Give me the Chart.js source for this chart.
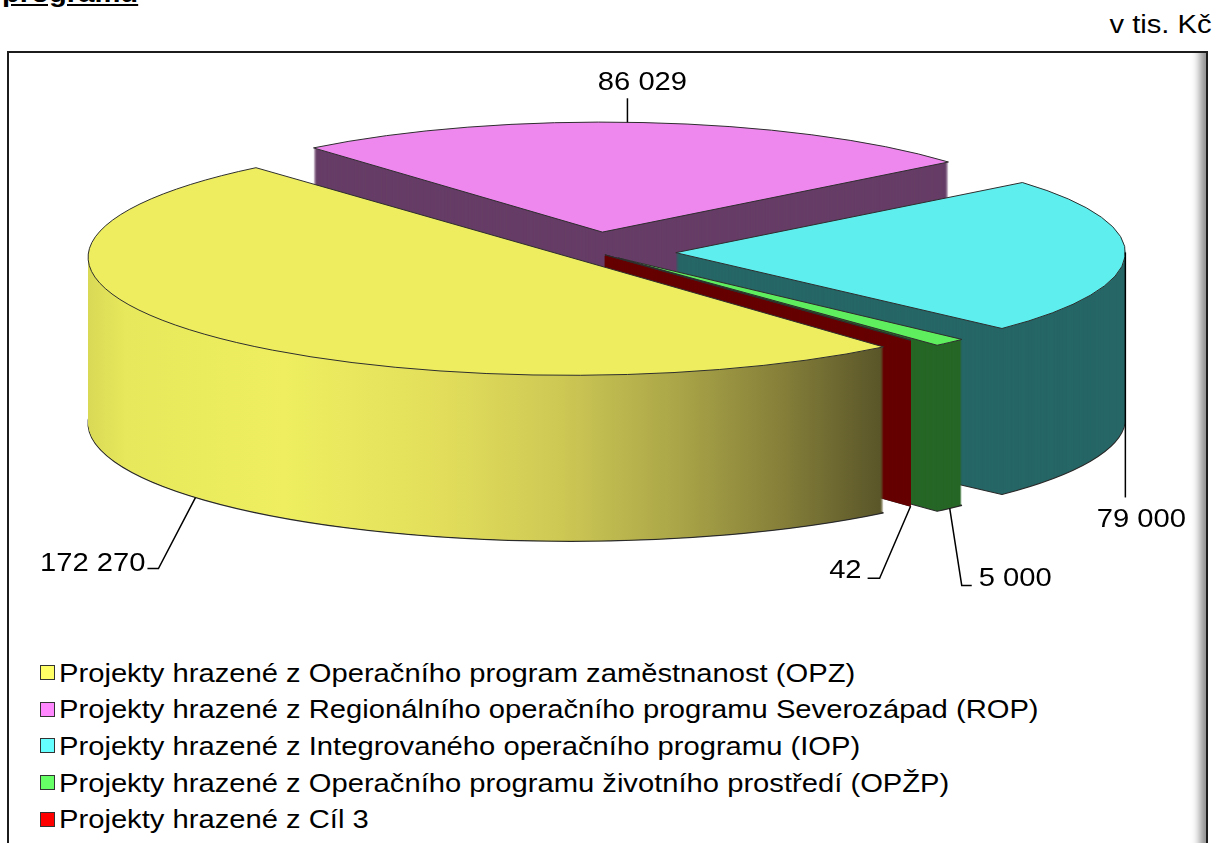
<!DOCTYPE html>
<html><head><meta charset="utf-8">
<script src="https://cdn.jsdelivr.net/npm/chart.js"></script>
<style>
html,body{margin:0;padding:0;background:#fff;width:1216px;height:843px;overflow:hidden;position:relative;font-family:"Liberation Sans",Arial,sans-serif;}
#frame{position:absolute;left:7px;top:51px;width:1197px;height:820px;border:2px solid #1c1c1c;box-shadow:inset -9px -9px 9px -3px rgba(0,0,0,0.45);}
#c{position:absolute;left:0;top:0;}
.st{position:absolute;white-space:nowrap;font-size:25.6px;line-height:26px;color:#000;}
.box{position:absolute;width:13px;height:13px;border:1px solid #333;}
</style>
</head><body>
<div class="st" style="left:2px;top:-19.9px;font-weight:bold;text-decoration:underline;transform:scaleX(1.14);transform-origin:0 0">programu</div>
<div class="st" style="right:4px;top:11.1px;transform:scaleX(1.14);transform-origin:100% 0">v tis. Kč</div>
<div id="frame"></div>
<div id="legend"></div>
<canvas id="c" width="1216" height="843"></canvas>
<script>
// ---- data ----
const categories = [
  'Projekty hrazené z Operačního program zaměstnanost (OPZ)',
  'Projekty hrazené z Regionálního operačního programu Severozápad (ROP)',
  'Projekty hrazené z Integrovaného operačního programu (IOP)',
  'Projekty hrazené z Operačního programu životního prostředí (OPŽP)',
  'Projekty hrazené z Cíl 3'
];
const values = [172270, 86029, 79000, 5000, 42];

// ---- styles ----
const topColors = ['#EDED5F', '#EE88EE', '#5EEEEE', '#5EEE5E', '#EE0000'];
const sideColors = ['#8F8A3F', '#663D66', '#266666', '#266626', '#660000'];
const legendColors = ['#FFFF66', '#FF88FF', '#66FFFF', '#66FF66', '#FF0000'];
const explode = [44, 109, 108, 44, 20];
const VIEW = {cx: 595, cy: 252, a: 449, b: 110, depth: 166};
const labelLayout = [
  {f: 0.509, bottom: true,  bend: [-37, 71], tail: -11, align: 'right',  tx: -2, ty: 2},
  {f: 0.478, bottom: false, bend: [0, -24],  tail: 0,   align: 'center', tx: 15, ty: -8.5},
  {f: 0.475, bottom: false, bend: [0, 245],  tail: 0,   align: 'center', tx: 16, ty: 30},
  {f: 0.5,   bottom: true,  bend: [12, 77],  tail: 10,  align: 'left',   tx: 7,  ty: 1},
  {f: 0.5,   bottom: true,  bend: [-31, 72], tail: -12, align: 'right',  tx: -6, ty: 0}
];
const LABEL_FONT = '25.6px "Liberation Sans", Arial, sans-serif';
const STRETCH = 1.14;

const fmt = v => String(v).replace(/\B(?=(\d{3})+(?!\d))/g, ' ');

// ---- HTML legend ----
const lg = document.getElementById('legend');
categories.forEach((name, i) => {
  const top = 659.8 + i * 36.6;
  const b = document.createElement('div');
  b.className = 'box';
  b.style.left = '40px'; b.style.top = (top + 5.3) + 'px';
  b.style.background = legendColors[i];
  lg.appendChild(b);
  const t = document.createElement('div');
  t.className = 'st';
  t.style.left = '59px'; t.style.top = top + 'px';
  t.style.transform = 'scaleX(' + STRETCH + ')';
  t.style.transformOrigin = '0 0';
  t.textContent = name;
  lg.appendChild(t);
});

// ---- 3D extrusion plugin ----
function viewOf(chart) {
  const meta = chart.getDatasetMeta(0);
  const el0 = meta.data[0];
  const R = el0.outerRadius;
  return {meta, cx: el0.x, cy: el0.y, kx: VIEW.a / R, ky: VIEW.b / R};
}
let saved = null;
const pie3d = {
  id: 'pie3d',
  beforeDatasetsDraw(chart) {
    const ctx = chart.ctx;
    const v = viewOf(chart);
    const base = ctx.getTransform();
    const apply = dy => {
      ctx.setTransform(base);
      ctx.translate(VIEW.cx, VIEW.cy + dy);
      ctx.scale(v.kx, v.ky);
      ctx.translate(-v.cx, -v.cy);
    };
    const oFill = ctx.fill, oStroke = ctx.stroke;
    ctx.fill = function(...a) { this.save(); this.setTransform(base); oFill.apply(this, a); this.restore(); };
    ctx.stroke = function(...a) { this.save(); this.setTransform(base); oStroke.apply(this, a); this.restore(); };
    saved = {base};
    const g = ctx.createLinearGradient(86, 0, 880, 0);
    g.addColorStop(0.00, '#D8D856');
    g.addColorStop(0.05, '#E8E85C');
    g.addColorStop(0.25, '#EEEE60');
    g.addColorStop(0.45, '#E2DE5B');
    g.addColorStop(0.60, '#CDC854');
    g.addColorStop(0.75, '#A9A447');
    g.addColorStop(0.88, '#847E39');
    g.addColorStop(1.00, '#5A5629');
    const sideFill = i => (i === 0 ? g : sideColors[i]);
    for (let k = VIEW.depth; k >= 1; k--) {
      apply(k);
      v.meta.data.forEach((el, i) => {
        const c = Object.create(el);
        const last = k === VIEW.depth;
        c.options = Object.assign({}, el.options, {
          backgroundColor: sideFill(i),
          borderColor: last ? '#2a2a2a' : sideColors[i],
          borderWidth: last ? 1.2 : (i === 4 ? 2.4 : 0)
        });
        c.draw(ctx);
      });
    }
    apply(0);
  },
  afterDatasetsDraw(chart) {
    const ctx = chart.ctx;
    delete ctx.fill; delete ctx.stroke;
    if (saved) ctx.setTransform(saved.base);
    const v = viewOf(chart);
    const map = (px, py) => [VIEW.cx + (px - v.cx) * v.kx, VIEW.cy + (py - v.cy) * v.ky];
    ctx.save();
    ctx.strokeStyle = '#000';
    ctx.lineWidth = 1.5;
    ctx.fillStyle = '#000';
    ctx.font = LABEL_FONT;
    v.meta.data.forEach((el, i) => {
      const L = labelLayout[i];
      const off = (el.options.offset || 0) / 4;
      const h = (el.startAngle + el.endAngle) / 2;
      const fix = 1 - Math.sin(Math.min(Math.PI, el.circumference));
      const r = el.outerRadius + off * fix;
      const a = el.startAngle + L.f * (el.endAngle - el.startAngle);
      const p = map(el.x + Math.cos(h) * off + Math.cos(a) * r, el.y + Math.sin(h) * off + Math.sin(a) * r);
      if (L.bottom) p[1] += VIEW.depth;
      const b = [p[0] + L.bend[0], p[1] + L.bend[1]];
      const e = [b[0] + L.tail, b[1]];
      ctx.beginPath();
      ctx.moveTo(p[0], p[1]);
      ctx.lineTo(b[0], b[1]);
      if (L.tail) ctx.lineTo(e[0], e[1]);
      ctx.stroke();
      ctx.save();
      ctx.translate(e[0] + L.tx, e[1] + L.ty);
      ctx.scale(STRETCH, 1);
      ctx.textAlign = L.align;
      ctx.textBaseline = 'alphabetic';
      ctx.fillText(fmt(values[i]), 0, 0);
      ctx.restore();
    });
    ctx.restore();
  }
};

new Chart(document.getElementById('c'), {
  type: 'pie',
  data: {
    labels: categories,
    datasets: [{
      data: values,
      backgroundColor: topColors,
      borderColor: '#2e2e2e',
      borderWidth: 1,
      offset: explode,
      radius: 150,
      clip: false
    }]
  },
  options: {
    responsive: false,
    animation: false,
    devicePixelRatio: 1,
    events: [],
    rotation: 138.8,
    layout: {padding: 0},
    plugins: {legend: {display: false}, tooltip: {enabled: false}}
  },
  plugins: [pie3d]
});
</script>
</body></html>
